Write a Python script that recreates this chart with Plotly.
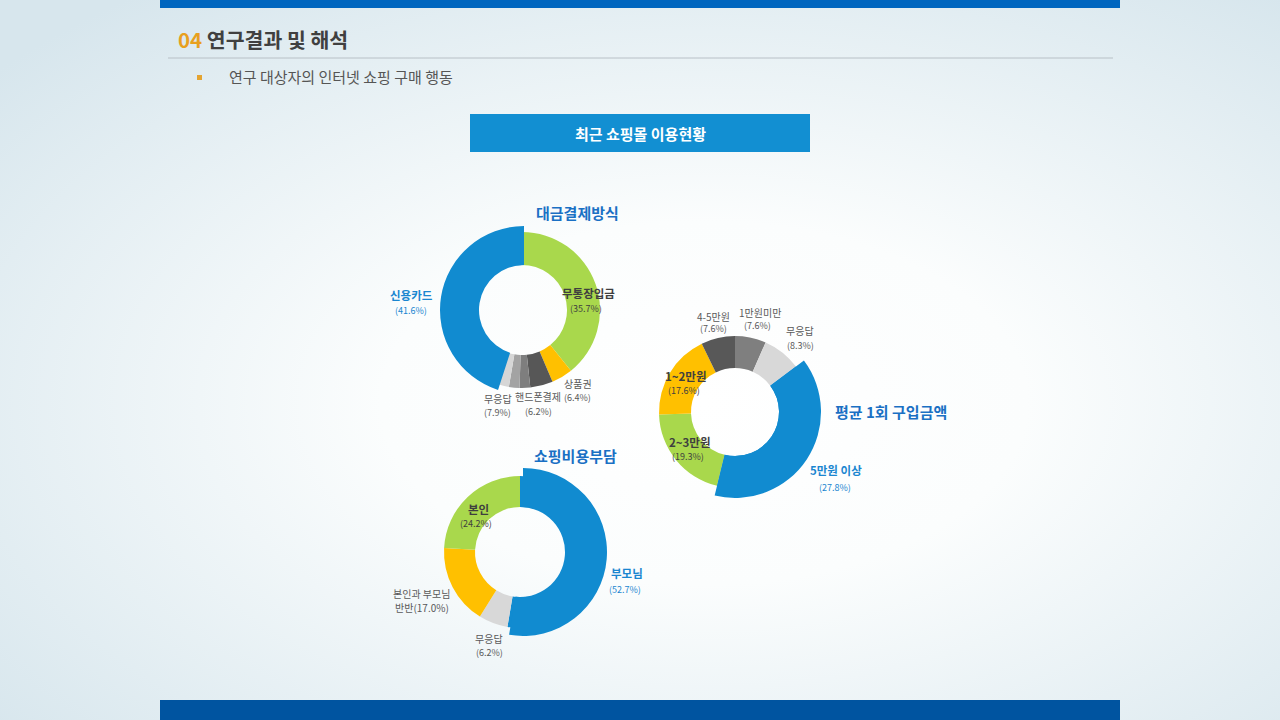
import base64

import plotly.graph_objects as go

W, H = 1280, 720

# ── 데이터 ──
# 대금결제방식 (12시 방향부터 시계방향)
pay_names = ["무통장입금", "상품권", "핸드폰결제", "기타①", "기타②", "무응답", "신용카드"]
pay_share = [39.2, 4.4, 4.7, 2.2, 2.2, 2.3, 45.0]
pay_pct = ["35.7%", "6.4%", "6.2%", "", "", "7.9%", "41.6%"]

# 평균 1회 구입금액
amount_names = ["1만원미만", "무응답", "5만원 이상", "2~3만원", "1~2만원", "4-5만원"]
amount_share = [6.6, 8.2, 39.0, 20.7, 18.3, 7.2]
amount_pct = ["7.6%", "8.3%", "27.8%", "19.3%", "17.6%", "7.6%"]

# 쇼핑비용부담
burden_names = ["부모님", "무응답", "본인과 부모님 반반", "본인"]
burden_share = [52.7, 6.2, 17.0, 24.2]
burden_pct = ["52.7%", "6.2%", "17.0%", "24.2%"]

BLUE = "#118bd0"
GREEN = "#a9d84c"
GOLD = "#ffc000"
FONT = "Noto Sans CJK KR"


def px(x):
    return x / W


def py(y):
    return 1 - y / H


def donut(fig, cx, cy, r, r_blue, hole_r, names, values, colors, blue_idx, dx=0):
    """기본 링 + 파란 조각만 크게 덧그린 링."""
    fig.add_trace(go.Pie(
        labels=names, values=values, sort=False, direction="clockwise", rotation=0,
        hole=hole_r / r, textinfo="none", hoverinfo="label+value", showlegend=False,
        marker=dict(colors=colors, line=dict(width=0)),
        domain=dict(x=[px(cx - r), px(cx + r)], y=[py(cy + r), py(cy - r)]),
    ))
    over = ["rgba(0,0,0,0)"] * len(values)
    over[blue_idx] = BLUE
    bx = cx + dx
    fig.add_trace(go.Pie(
        labels=names, values=values, sort=False, direction="clockwise", rotation=0,
        hole=hole_r / r_blue, textinfo="none", hoverinfo="skip", showlegend=False,
        marker=dict(colors=over, line=dict(width=0)),
        domain=dict(x=[px(bx - r_blue), px(bx + r_blue)], y=[py(cy + r_blue), py(cy - r_blue)]),
    ))


def label(fig, x, y, text, color, size, bold=False, xanchor="center"):
    fig.add_annotation(
        x=px(x), y=py(y), xref="paper", yref="paper", text=text, showarrow=False,
        xanchor=xanchor, yanchor="middle",
        font=dict(family=FONT, size=size, color=color, weight="bold" if bold else "normal"),
    )


def slice_label(fig, name, pct, pos, style):
    (nx, ny), (qx, qy) = pos
    color, bold = {"blue": ("#1a86d0", True), "dark": ("#3f3f3f", True), "gray": ("#595959", False)}[style]
    label(fig, nx, ny, name, color, 11.5 if bold else 10, bold)
    label(fig, qx, qy, f"({pct})", color, 9)


fig = go.Figure()

# 대금결제방식
donut(fig, 522, 310, 78, 84, 45, pay_names, pay_share,
      [GREEN, GOLD, "#575757", "#7e7e7e", "#a3a3a3", "#d6d6d6", BLUE], 6, dx=2)
# 평균 1회 구입금액
donut(fig, 735, 412, 76, 86, 44, amount_names, amount_share,
      ["#7f7f7f", "#d8d8d8", BLUE, GREEN, GOLD, "#585858"], 2)
# 쇼핑비용부담
donut(fig, 520, 552, 76, 84, 45, burden_names, burden_share,
      [BLUE, "#d8d8d8", GOLD, GREEN], 0, dx=3)

# 조각 라벨
pay_pos = {
    "무통장입금": (((588, 293), (586, 308)), "dark"),
    "상품권": (((578, 383), (577, 397)), "gray"),
    "핸드폰결제": (((538, 396), (538, 411)), "gray"),
    "무응답": (((498, 398), (497, 412)), "gray"),
    "신용카드": (((411, 295), (411, 310)), "blue"),
}
for n, p in zip(pay_names, pay_pct):
    if n in pay_pos:
        slice_label(fig, n, p, *pay_pos[n])

amount_pos = {
    "1만원미만": (((760, 312), (757, 326)), "gray"),
    "무응답": (((800, 331), (800, 345)), "gray"),
    "5만원 이상": (((836, 470), (835, 487)), "blue"),
    "2~3만원": (((690, 442), (688, 456)), "dark"),
    "1~2만원": (((686, 376), (684, 390)), "dark"),
    "4-5만원": (((713, 316), (713, 329)), "gray"),
}
for n, p in zip(amount_names, amount_pct):
    slice_label(fig, n, p, *amount_pos[n])

burden_pos = {
    "부모님": (((627, 573), (625, 589)), "blue"),
    "무응답": (((489, 638), (489, 652)), "gray"),
    "본인": (((478, 509), (476, 523)), "dark"),
}
for n, p in zip(burden_names, burden_pct):
    if n in burden_pos:
        slice_label(fig, n, p, *burden_pos[n])
    else:
        head, tail = n.rsplit(" ", 1)
        label(fig, 452, 593, head, "#595959", 10, xanchor="right")
        label(fig, 451, 607, f"{tail}({p})", "#595959", 10, xanchor="right")

# 차트 제목
label(fig, 577, 212, "대금결제방식", "#1a70c4", 15, True)
label(fig, 891, 411, "평균 1회 구입금액", "#1a70c4", 15, True)
label(fig, 575, 455, "쇼핑비용부담", "#1a70c4", 15, True)

# 슬라이드 머리
label(fig, 176, 39, "<span style='color:#e8a01e'>04</span> 연구결과 및 해석", "#404040", 20.5, True, "left")
label(fig, 227, 77, "연구 대상자의 인터넷 쇼핑 구매 행동", "#555555", 15, False, "left")
label(fig, 640, 133, "최근 쇼핑몰 이용현황", "white", 15, True)

shapes = [
    dict(type="rect", x0=px(160), x1=px(1120), y0=py(8), y1=py(0), fillcolor="#0066bf"),
    dict(type="rect", x0=px(160), x1=px(1120), y0=py(720), y1=py(700), fillcolor="#0054a0"),
    dict(type="line", x0=px(168), x1=px(1113), y0=py(58), y1=py(58), line=dict(color="#b8c0c6", width=1)),
    dict(type="rect", x0=px(197), x1=px(202), y0=py(80), y1=py(75), fillcolor="#e4a431"),
    dict(type="rect", x0=px(470), x1=px(810), y0=py(152), y1=py(114), fillcolor="#128fd2"),
]
for s in shapes:
    s.update(xref="paper", yref="paper", layer="above")
    s.setdefault("line", dict(width=0))
    fig.add_shape(**s)

# 방사형 배경
svg = (
    '<svg xmlns="http://www.w3.org/2000/svg" width="1280" height="720">'
    '<defs><radialGradient id="g" cx="0.55" cy="0.56" r="0.72">'
    '<stop offset="0" stop-color="#ffffff"/><stop offset="0.35" stop-color="#fbfdfd"/>'
    '<stop offset="1" stop-color="#d7e6ed"/></radialGradient></defs>'
    '<rect width="1280" height="720" fill="url(#g)"/></svg>'
)
bg = "data:image/svg+xml;base64," + base64.b64encode(svg.encode()).decode()
fig.add_layout_image(dict(source=bg, xref="paper", yref="paper", x=0, y=1, sizex=1, sizey=1,
                          sizing="stretch", xanchor="left", yanchor="top", layer="below"))

fig.update_layout(
    width=W, height=H, margin=dict(l=0, r=0, t=0, b=0),
    paper_bgcolor="#eaf2f5", plot_bgcolor="rgba(0,0,0,0)",
    font_family=FONT, showlegend=False,
)
# 브라우저 기본 body 여백 제거
fig.write_html("out.html", config={"displayModeBar": False},
               post_script="document.body.style.margin='0';document.body.style.overflow='hidden';")
